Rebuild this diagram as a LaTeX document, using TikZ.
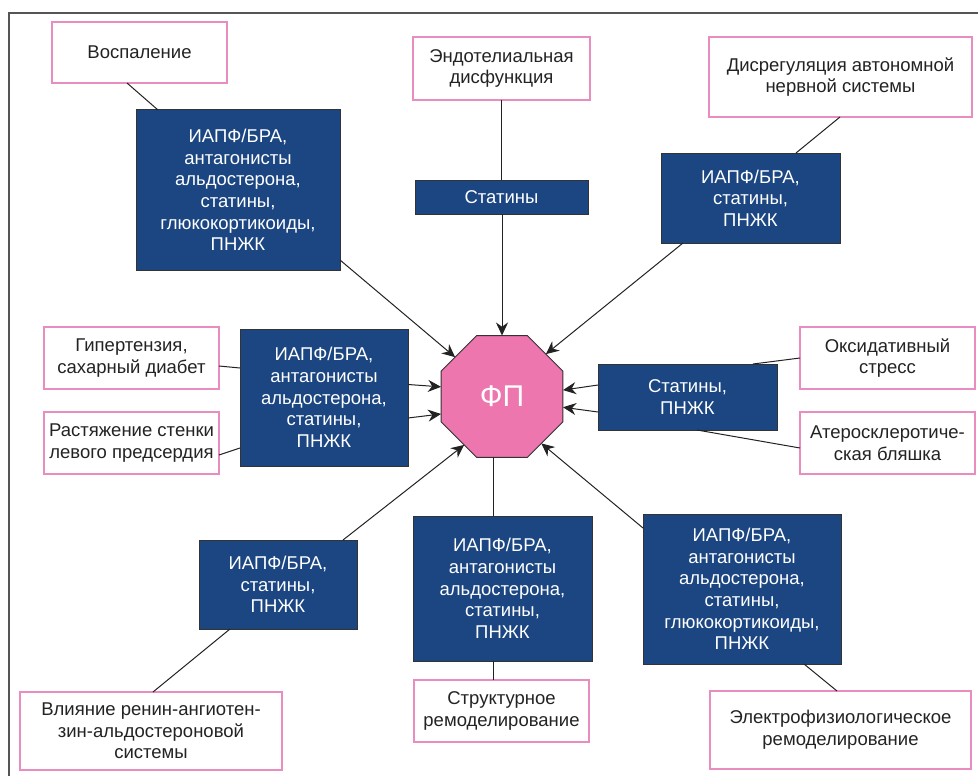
\documentclass[tikz,border=0pt]{standalone}
\usepackage{fontspec}
\setmainfont{Liberation Sans}
\usetikzlibrary{arrows.meta,shapes.geometric,calc}
\definecolor{pinkb}{HTML}{E98CBF}
\definecolor{blueb}{HTML}{1B4682}
\definecolor{octf}{HTML}{EC76AD}
\definecolor{txt}{HTML}{232323}
\definecolor{lin}{HTML}{222222}
\definecolor{framec}{HTML}{555555}
\begin{document}
\begin{tikzpicture}[x=1pt,y=-1pt,
  every node/.style={inner sep=0pt,outer sep=0pt},
  cause/.style={draw=pinkb,line width=1.3pt,fill=white,text=txt,align=center,
    font=\fontsize{18.5}{21.7}\selectfont},
  drug/.style={draw=black!80,line width=1pt,fill=blueb,text=white,align=center,
    font=\fontsize{18.5}{21.7}\selectfont},
  link/.style={draw=lin,line width=1pt},
  arr/.style={link,-{Stealth[length=13pt,width=12pt]}}]
\useasboundingbox (0,0) rectangle (978,776);
\draw[framec,line width=1.3pt] (9,776) -- (9,13) -- (978,13);

% cause boxes
\node[cause,minimum width=175pt,minimum height=61pt] (vosp) at (139.5,52.5) {Воспаление};
\node[cause,minimum width=177pt,minimum height=63pt] (endo) at (501.5,68.5) {Эндотелиальная\\дисфункция};
\node[cause,minimum width=263pt,minimum height=80pt] (disr) at (840.5,77) {Дисрегуляция автономной\\нервной системы};
\node[cause,minimum width=175pt,minimum height=62pt] (gip) at (131.5,358) {Гипертензия,\\сахарный диабет};
\node[cause,minimum width=175pt,minimum height=62pt] (rast) at (131.5,443) {Растяжение стенки\\левого предсердия};
\node[cause,minimum width=175pt,minimum height=62pt] (oksid) at (887.5,358) {Оксидативный\\стресс};
\node[cause,minimum width=175pt,minimum height=62pt] (ater) at (887.5,443) {Атеросклеротиче-\\ская бляшка};
\node[cause,minimum width=262pt,minimum height=78pt] (vliy) at (151,731) {Влияние ренин-ангиотен-\\зин-альдостероновой\\системы};
\node[cause,minimum width=175pt,minimum height=62pt] (struct) at (501.5,711) {Структурное\\ремоделирование};
\node[cause,minimum width=261pt,minimum height=78pt] (elec) at (840.5,730) {Электрофизиологическое\\ремоделирование};

% drug boxes
\node[drug,minimum width=204pt,minimum height=160pt] (b1) at (238,190) {ИАПФ/БРА,\\антагонисты\\альдостерона,\\статины,\\глюкокортикоиды,\\ПНЖК};
\node[drug,minimum width=173pt,minimum height=34pt] (stat) at (501.5,197) {Статины};
\node[drug,minimum width=179pt,minimum height=90pt] (b3) at (750.5,198) {ИАПФ/БРА,\\статины,\\ПНЖК};
\node[drug,minimum width=168pt,minimum height=137pt] (b4) at (324,397.5) {ИАПФ/БРА,\\антагонисты\\альдостерона,\\статины,\\ПНЖК};
\node[drug,minimum width=179pt,minimum height=66pt] (b5) at (687.5,397) {Статины,\\ПНЖК};
\node[drug,minimum width=158pt,minimum height=89pt] (b6) at (278,584.5) {ИАПФ/БРА,\\статины,\\ПНЖК};
\node[drug,minimum width=179pt,minimum height=145pt] (b7) at (502.5,588.5) {ИАПФ/БРА,\\антагонисты\\альдостерона,\\статины,\\ПНЖК};
\node[drug,minimum width=198pt,minimum height=150pt] (b8) at (742,589) {ИАПФ/БРА,\\антагонисты\\альдостерона,\\статины,\\глюкокортикоиды,\\ПНЖК};

% central octagon
\node[regular polygon,regular polygon sides=8,minimum size=132pt,fill=octf,
  draw=black!80,line width=1pt,text=white,font=\fontsize{30}{32}\selectfont] (oct) at (502,396.5) {ФП};

% connectors
\draw[link] ($(vosp.south west)+(75,0)$) -- ($(b1.north west)+(22,0)$);
\draw[arr] ($(b1.south east)+(0,-10)$) -- (oct.140);
\draw[link] (stat.north |- endo.south) -- (stat.north);
\draw[arr] (oct.north |- stat.south) -- (oct.north);
\draw[link] ($(disr.south west)+(131,0)$) -- ($(b3.north west)+(135,0)$);
\draw[arr] ($(b3.south west)+(22,0)$) -- (oct.44);
\draw[link] ($(gip.east)+(0,8)$) -- ($(b4.west)+(0,-29.5)$);
\draw[link] ($(rast.east)+(0,12)$) -- ($(b4.west)+(0,50.5)$);
\draw[arr] ($(b4.east)+(0,-13)$) -- (oct.171);
\draw[arr] ($(b4.east)+(0,20.5)$) -- (oct.196);
\draw[arr] ($(b5.west)+(0,-12)$) -- (oct.6);
\draw[arr] ($(b5.west)+(0,15)$) -- (oct.350);
\draw[link] (oksid.west) -- ($(b5.north west)+(155,0)$);
\draw[link] ($(ater.west)+(0,5)$) -- ($(b5.south west)+(99,0)$);
\draw[arr] ($(b6.north west)+(144,0)$) -- (oct.232);
\draw[link] ($(vliy.north west)+(133,0)$) -- ($(b6.south west)+(31,0)$);
\draw[link] (oct.262 |- b7.north) -- (oct.262);
\draw[link] (oct.262 |- b7.south) -- (oct.262 |- struct.north);
\draw[arr] ($(b8.north west)+(0,14)$) -- (oct.310);
\draw[link] ($(b8.south west)+(161,0)$) -- ($(elec.north west)+(127,0)$);
\end{tikzpicture}
\end{document}
